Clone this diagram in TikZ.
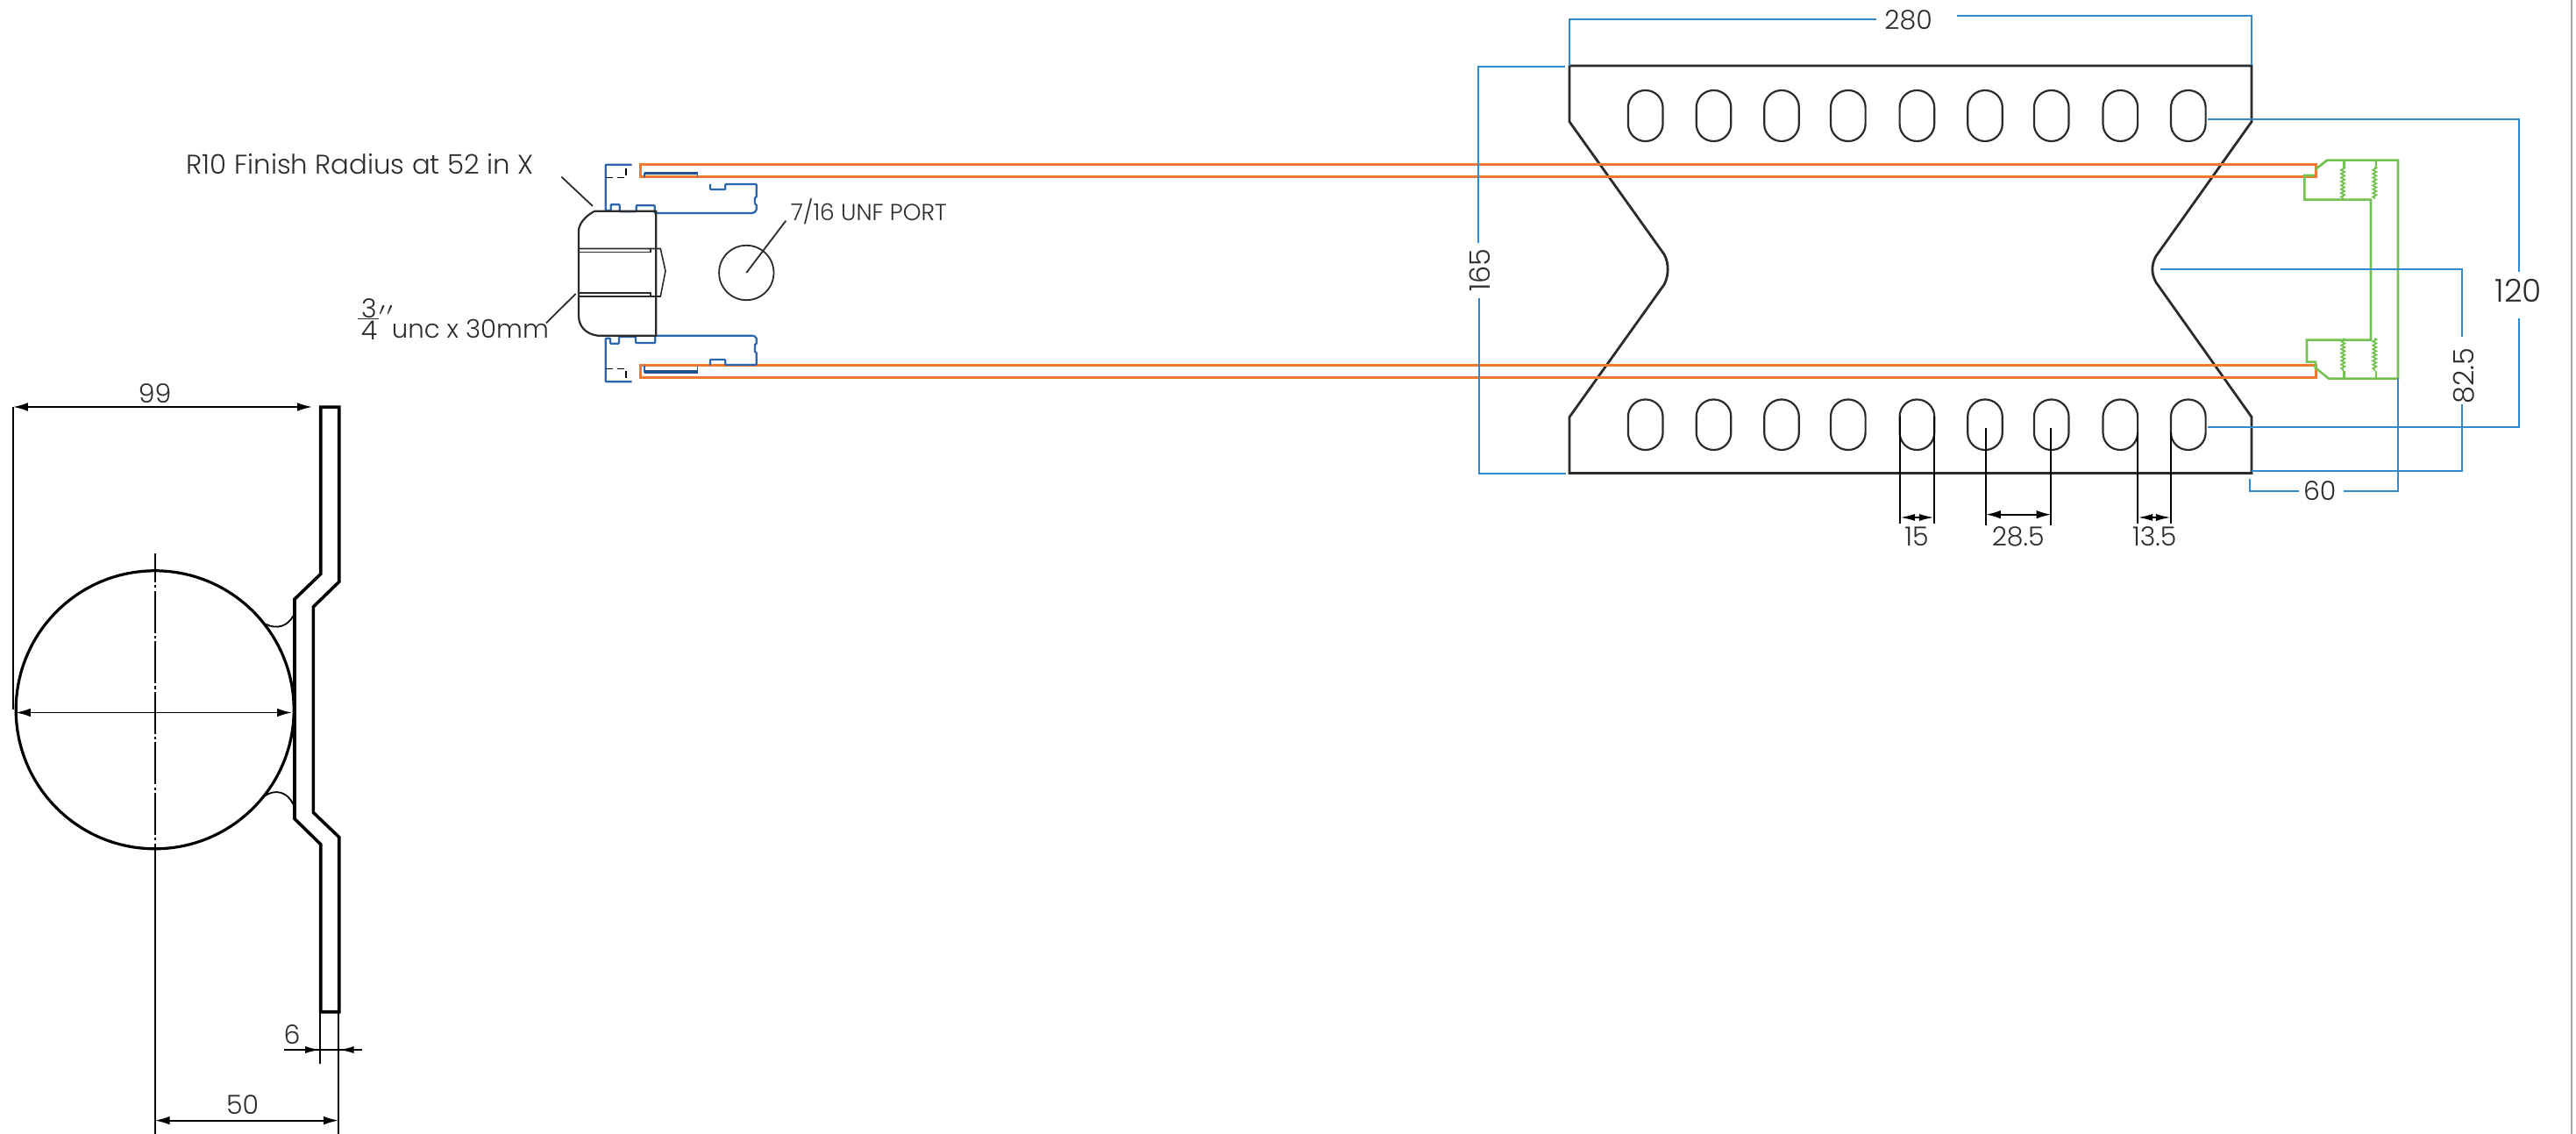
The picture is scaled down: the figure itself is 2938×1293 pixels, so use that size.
\documentclass[tikz,border=0pt]{standalone}
\usepackage{fontspec}
\setmainfont{Poppins}[UprightFont=* Light]
\usetikzlibrary{calc,arrows.meta,decorations.pathmorphing}

\definecolor{inkblack}{HTML}{2B2B2B}
\definecolor{dimblue}{HTML}{2F8AD0}
\definecolor{partblue}{HTML}{2A66B0}
\definecolor{tubeorange}{HTML}{F4792E}
\definecolor{partgreen}{HTML}{72C24F}

\tikzset{
  outline/.style={inkblack,line width=0.55pt,line join=miter},
  heavy/.style={black,line width=0.9pt},
  bluedim/.style={dimblue,line width=0.5pt},
  blackdim/.style={black,line width=0.45pt},
  dimboth/.style={blackdim,{Latex[length=4.2pt,width=2.4pt]}-{Latex[length=4.2pt,width=2.4pt]}},
  tube/.style={tubeorange,line width=0.75pt},
  bluepart/.style={partblue,line width=0.55pt,rounded corners=0.2pt},
  greenpart/.style={partgreen,line width=0.65pt},
  thread/.style={partgreen,line width=0.45pt,decorate,decoration={zigzag,segment length=1.1pt,amplitude=0.5pt}},
  label/.style={inkblack,inner sep=0pt,font=\fontsize{7.5}{9}\selectfont},
  biglabel/.style={label,font=\fontsize{9}{11}\selectfont}
}

\begin{document}
\begin{tikzpicture}[x=0.25pt,y=-0.25pt]
  \path[fill=white,use as bounding box] (0,0) rectangle (2938,1293);
  \draw[gray!70,line width=0.5pt] (2932.5,0) -- (2932.5,1293);

  % plate with slots
  \coordinate (TL) at (1790,75);
  \coordinate (TR) at (2568,75);
  \coordinate (BR) at (2568,539.6);
  \coordinate (BL) at (1790,539.6);
  \draw[outline,line width=0.7pt] (TL) -- (TR) -- (2568,138.8) -- (2459,292)
    .. controls (2453.5,302) and (2453.5,312) .. (2459,322) -- (2568,475.5) -- (BR) -- (BL)
    -- (1790,475.5) -- (1898,324.5) .. controls (1903.5,314) and (1903.5,300) .. (1898,290)
    -- (1790,138.8) -- cycle;
  \foreach \cx in {1876.7,1954.5,2032,2107.8,2186.4,2264,2339.7,2418.3,2495.8} {
    \draw[outline,rounded corners=4.9pt] (\cx-19.8,103) rectangle (\cx+19.8,161);
    \draw[outline,rounded corners=4.9pt] (\cx-19.8,455.5) rectangle (\cx+19.8,513);
  }

  % tubes
  \draw[tube] (2641,187.8) -- (730,187.8) -- (730,201.2) -- (2641,201.2) -- cycle;
  \draw[tube] (2641,417) -- (730,417) -- (730,430.6) -- (2641,430.6) -- cycle;

  % blue fitting
  \draw[bluepart] (720.7,187.7) -- (690.7,187.7) -- (690.7,240) -- (696.7,240) -- (696.7,233.3)
    -- (706.7,233.3) -- (706.7,241.3) -- (725.7,241.3) -- (725.7,234.3) -- (746.7,234.3)
    -- (746.7,243) -- (856,243) .. controls (860,243) and (862.7,241) .. (862.7,238.3)
    -- (862.7,233) -- (861,233) -- (861,225) -- (862.7,225) -- (862.7,210) -- (827.3,210)
    -- (827.3,216) -- (810,216) -- (810,210);
  \draw[bluepart] (720.7,435.3) -- (690.7,435.3) -- (690.7,385.7) -- (696,385.7) -- (696,391.7)
    -- (706,391.7) -- (706,384) -- (725,384) -- (725,391) -- (747.3,391) -- (747.3,382.7)
    -- (856,382.7) .. controls (860,382.7) and (862.7,384) .. (862.7,386.7) -- (862.7,392.3)
    -- (861,392.3) -- (861,401.7) -- (862.7,401.7) -- (862.7,416) -- (827.3,416) -- (827.3,410)
    -- (810,410) -- (810,416.7);
  \draw[black,line width=0.4pt,dashed,dash pattern=on 2pt off 1.2pt] (690.7,202.7) -- (714,202.7) -- (714,187.7);
  \draw[black,line width=0.4pt,dashed,dash pattern=on 2pt off 1.2pt] (690.7,420.7) -- (714,420.7) -- (714,435.3);
  \draw[partblue,line width=0.3pt] (735,201.7) -- (735,197.3) -- (795.7,197.3) -- (795.7,201.7);
  \draw[partblue,line width=0.3pt] (735,417) -- (735,424) -- (795.7,424) -- (795.7,417);
  \draw[partblue!80!black,line width=0.85pt] (735,197.3) -- (795.7,197.3);
  \draw[partblue!80!black,line width=0.85pt] (735,424) -- (795.7,424);

  % bolt
  \draw[outline] (678.3,240.7) -- (748.3,240.7) -- (748.3,382.7) -- (681.7,382.7)
    .. controls (668,381) and (660,372) .. (660,360) -- (660,263.3)
    .. controls (660,255) and (668,246) .. (678.3,240.7);
  \draw[outline,line width=0.7pt] (660,283.5) -- (660,338);
  \draw[outline,line width=0.4pt] (660,283.5) -- (753.3,283.5) -- (759,309) -- (753.3,338) -- (660,338);
  \draw[outline,line width=0.4pt] (660,287.5) -- (741.7,287.5) -- (741.7,283.5);
  \draw[outline,line width=0.4pt] (660,334) -- (741.7,334) -- (741.7,338);

  % port circle and leaders
  \draw[outline,line width=0.45pt] (851.3,311) circle [radius=31.2];
  \coordinate (portC) at (851.3,311);
  \draw[outline,line width=0.45pt] (portC) -- (896.3,251.7);
  \draw[outline,line width=0.45pt] (640.5,201.7) -- (675.9,235);
  \draw[outline,line width=0.45pt] (656.6,335) -- (623,368.3);

  \node[label,anchor=base west,font=\fontsize{7.7}{9}\selectfont] (radiustxt) at (212,199) {R10 Finish Radius at 52 in X};
  \node[label,anchor=west,font=\fontsize{6.6}{8}\selectfont] (porttxt) at (901,241) {7/16 UNF PORT};
  \node[label] (threetxt) at (421,352) {3};
  \node[label] (fourtxt) at (421,376.7) {4};
  \draw[inkblack,line width=0.3pt] (408,363.5) -- (432,363.5);
  \node[label,font=\fontsize{5}{6}\selectfont,anchor=center] (inchtxt) at (441,358) {$^{\prime\prime}$};
  \node[label,anchor=base west,font=\fontsize{7.3}{9}\selectfont] (bolttxt) at (446,386) {unc x 30mm};

  % green cap
  \draw[greenpart] (2640.7,193.3) -- (2654,182.7) -- (2735,182.7) -- (2735,431.7) -- (2656,431.7)
    -- (2640.7,419.3) -- (2640.7,412.7) -- (2631,412.7) -- (2631,387.7) -- (2704,387.7)
    -- (2704,227.7) -- (2628.3,227.7) -- (2628.3,200) -- (2640,200);
  \draw[greenpart] (2673.3,182.7) -- (2673.3,191);
  \draw[greenpart] (2710,182.7) -- (2710,191);
  \draw[thread] (2672,190.5) -- (2672,227);
  \draw[thread] (2708.3,190.5) -- (2708.3,227);
  \draw[thread] (2672.3,386) -- (2672.3,423);
  \draw[thread] (2708.3,386) -- (2708.3,423);
  \draw[greenpart] (2673.7,422.7) -- (2673.7,431.7);
  \draw[greenpart] (2710,422.7) -- (2710,431.7);

  % blue dimensions
  \node[label] (txtA) at (2176.6,23) {280};
  \draw[bluedim] (TL) -- (1790,21.6) -- (2140,21.6);
  \draw[bluedim] (2232,18.4) -- (2567.6,18.4) -- (2567.6,74);
  \node[label,font=\fontsize{8}{10}\selectfont,rotate=90] (txtB) at (1687.5,308) {165};
  \draw[bluedim] (1785,76.3) -- (1686,76.3) -- (1686,277.5);
  \draw[bluedim] (1687,339.6) -- (1687,539.6) -- (1786,539.6);
  \node[biglabel] (txtC) at (2872.3,331.8) {120};
  \draw[bluedim] (2518,135.7) -- (2873,135.7) -- (2873,310);
  \draw[bluedim] (2873,363) -- (2873,487.3) -- (2518,487.3);
  \node[label,font=\fontsize{8}{10}\selectfont,rotate=90] (txtD) at (2810,428.6) {82.5};
  \draw[bluedim] (2463.7,307.3) -- (2807.7,307.3) -- (2807.7,383.7);
  \draw[bluedim] (2807.7,461) -- (2807.7,537) -- (2568,537);
  \node[label] (txtE) at (2645.7,560) {60};
  \draw[bluedim] (2566,546) -- (2566,560.4) -- (2621.7,560.4);
  \draw[bluedim] (2673.3,560.4) -- (2735,560.4) -- (2735,431.4);

  % slot dimensions
  \draw[blackdim] (2167.3,475) -- (2167.3,596.7);
  \draw[blackdim] (2205.7,475) -- (2205.7,596.7);
  \coordinate (A1) at (2167.3,590);
  \coordinate (A2) at (2205.7,590);
  \draw[blackdim,{Latex[length=4.2pt,width=2pt]}-] (A1) -- ($(A1)!0.5!(A2)$);
  \draw[blackdim,-{Latex[length=4.2pt,width=2pt]}] ($(A1)!0.5!(A2)$) -- (A2);
  \node[label] (txtF) at (2186,611.7) {15};
  \draw[blackdim] (2265,488.3) -- (2265,599.3);
  \draw[blackdim] (2339.3,488.3) -- (2339.3,599.3);
  \draw[dimboth] (2265,586.7) -- (2339.3,586.7);
  \node[label] (txtG) at (2301.7,611.7) {28.5};
  \draw[blackdim] (2438.3,493.3) -- (2438.3,597.3);
  \draw[blackdim] (2475.7,493.3) -- (2475.7,597.3);
  \coordinate (B1) at (2438.3,590);
  \coordinate (B2) at (2475.7,590);
  \draw[blackdim,{Latex[length=4.2pt,width=2pt]}-] (B1) -- ($(B1)!0.5!(B2)$);
  \draw[blackdim,-{Latex[length=4.2pt,width=2pt]}] ($(B1)!0.5!(B2)$) -- (B2);
  \node[label] (txtH) at (2457.3,611.7) {13.5};

  % end view
  \coordinate (ringC) at (176.7,809.3);
  \draw[heavy,line width=0.8pt] (ringC) circle [radius=158.5];
  \draw[heavy,line join=miter] (365.7,464.1) -- (386.7,464.1) -- (386.7,663.4) -- (357.3,692)
    -- (357.3,926.4) -- (386.7,954.5) -- (386.7,1153.7) -- (365.7,1153.7) -- (365.7,962.7)
    -- (336,933.6) -- (336,683.2) -- (365.7,654.5) -- cycle;
  \draw[blackdim] (303.3,711.8) .. controls (316,718) and (328,714) .. (334.3,702.4);
  \draw[blackdim] (301.7,907.7) .. controls (314,899) and (328,903) .. (334.3,917);
  \draw[blackdim,dash pattern=on 12pt off 0.8pt on 0.8pt off 0.8pt,dash phase=3.75pt] (176.7,631) -- (176.7,968);
  \draw[blackdim] (176.7,968) -- (176.7,1293);
  \draw[blackdim] (386,1153.7) -- (386,1293);
  \draw[blackdim] (365,1153.7) -- (365,1212.6);
  \draw[blackdim] (15,464) -- (15,808.6);
  \draw[dimboth] (15,464) -- (356,464);
  \node[label] (txtI) at (176.7,449) {99};
  \draw[dimboth] (18,812.5) -- (333,812.5);
  \draw[dimboth] (176.7,1277.6) -- (386,1277.6);
  \node[label] (txtJ) at (276.7,1260) {50};
  \draw[blackdim] (324,1197) -- (413,1197);
  \draw[blackdim,-{Latex[length=4.2pt,width=2pt]}] (346,1197) -- (365,1197);
  \draw[blackdim,-{Latex[length=4.2pt,width=2pt]}] (405,1197) -- (386.7,1197);
  \node[label] (txtK) at (333,1179.6) {6};
\end{tikzpicture}
\end{document}
